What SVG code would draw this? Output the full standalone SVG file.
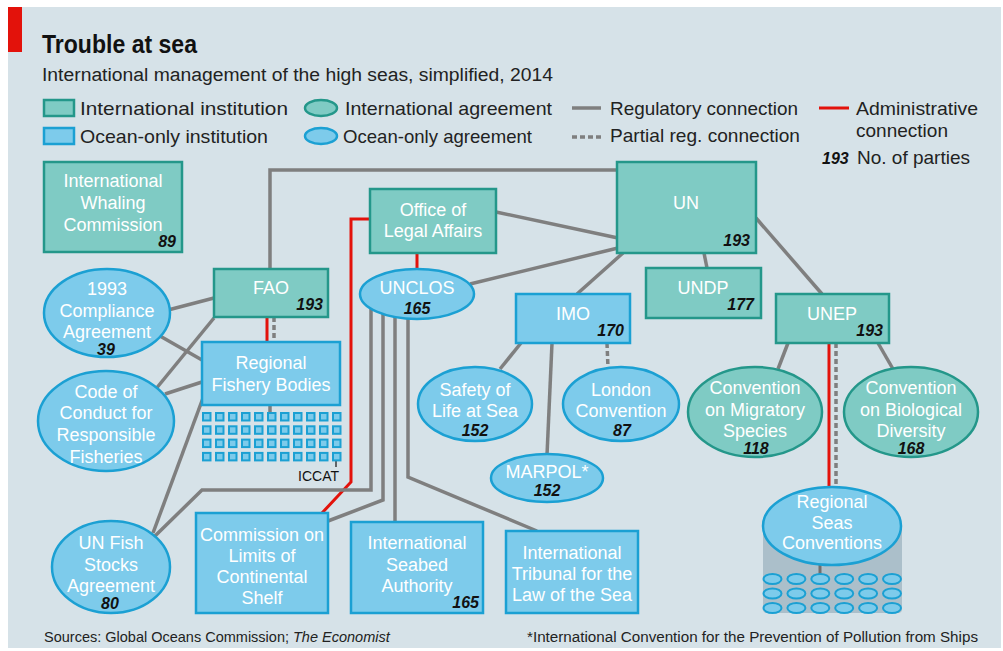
<svg xmlns="http://www.w3.org/2000/svg" width="1003" height="651" viewBox="0 0 1003 651">
<style>
text{font-family:"Liberation Sans",Arial,sans-serif}
.bg{fill:#d6e2e8}
.ti{fill:#7fcbc4;stroke:#24978a;stroke-width:2.5}
.oc{fill:#7dcbeb;stroke:#1ba0d3;stroke-width:2.5}
.nt{fill:#ffffff;font-size:18px;text-anchor:middle}
.num{fill:#111;font-size:16px;font-weight:bold;font-style:italic}
.e{text-anchor:end}
.m{text-anchor:middle}
.lg{fill:#222;font-size:19px}
.reg{fill:none;stroke:#7f7f7f;stroke-width:3.5}
.par{fill:none;stroke:#7f7f7f;stroke-width:3.5;stroke-dasharray:5 3}
.adm{fill:none;stroke:#e3120b;stroke-width:3}
.sq{fill:#7dcbeb;stroke:#1ba0d3;stroke-width:2}
</style>
<rect x="0" y="0" width="1003" height="651" fill="#ffffff"/>
<rect class="bg" x="8" y="7" width="993" height="641"/>
<rect x="8" y="7" width="14" height="45" fill="#e3120b"/>
<text x="42" y="53" font-size="25" font-weight="bold" fill="#111" textLength="155" lengthAdjust="spacingAndGlyphs">Trouble at sea</text>
<text x="42" y="81" font-size="18" fill="#222" textLength="511" lengthAdjust="spacingAndGlyphs">International management of the high seas, simplified, 2014</text>

<g id="legend">
<rect class="ti" x="44" y="100" width="30" height="16"/>
<text class="lg" x="80" y="115" textLength="208" lengthAdjust="spacingAndGlyphs">International institution</text>
<rect class="oc" x="44" y="128" width="30" height="16"/>
<text class="lg" x="80" y="143" textLength="188" lengthAdjust="spacingAndGlyphs">Ocean-only institution</text>
<ellipse class="ti" cx="321" cy="108" rx="16" ry="8"/>
<text class="lg" x="345" y="115" textLength="207" lengthAdjust="spacingAndGlyphs">International agreement</text>
<ellipse class="oc" cx="321" cy="136" rx="16" ry="8"/>
<text class="lg" x="343" y="143" textLength="189" lengthAdjust="spacingAndGlyphs">Ocean-only agreement</text>
<line class="reg" x1="572" y1="108" x2="601" y2="108"/>
<text class="lg" x="610" y="115" textLength="188" lengthAdjust="spacingAndGlyphs">Regulatory connection</text>
<line class="par" x1="572" y1="137" x2="601" y2="137" stroke-width="3"/>
<text class="lg" x="610" y="142" textLength="190" lengthAdjust="spacingAndGlyphs">Partial reg. connection</text>
<line class="adm" x1="819" y1="108" x2="849" y2="108"/>
<text class="lg" x="856" y="115" textLength="122" lengthAdjust="spacingAndGlyphs">Administrative</text>
<text class="lg" x="856" y="137" textLength="92" lengthAdjust="spacingAndGlyphs">connection</text>
<text class="num" x="822" y="164">193</text>
<text class="lg" x="857" y="164" textLength="113" lengthAdjust="spacingAndGlyphs">No. of parties</text>
</g>

<g id="connectors">
<polyline class="reg" points="617,170 270,170 270,269"/>
<line class="reg" x1="496" y1="212" x2="618" y2="238"/>
<line class="reg" x1="470" y1="284" x2="618" y2="248"/>
<line class="reg" x1="623" y1="253" x2="577" y2="294"/>
<line class="reg" x1="704" y1="253" x2="707" y2="268"/>
<line class="reg" x1="756" y1="218" x2="822" y2="294"/>
<line class="reg" x1="521" y1="343" x2="500" y2="369"/>
<line class="reg" x1="552" y1="343" x2="547" y2="455"/>
<line class="par" x1="607" y1="343" x2="608" y2="368"/>
<line class="reg" x1="788" y1="343" x2="778" y2="369"/>
<line class="reg" x1="878" y1="343" x2="893" y2="369"/>
<line class="adm" x1="417" y1="253" x2="417" y2="270"/>
<polyline class="adm" points="370,219 351,219 351,482 322,513"/>
<polyline class="reg" points="371,300 371,490 202,490 155,536"/>
<polyline class="reg" points="383,305 383,500 328,521"/>
<line class="reg" x1="395" y1="308" x2="395" y2="522"/>
<polyline class="reg" points="408,310 408,477 537,531"/>
<line class="reg" x1="168" y1="310" x2="214" y2="298"/>
<line class="reg" x1="160" y1="336" x2="202" y2="360"/>
<line class="reg" x1="155" y1="390" x2="214" y2="318"/>
<line class="reg" x1="165" y1="394" x2="202" y2="382"/>
<line class="reg" x1="203" y1="398" x2="153" y2="533"/>
<line class="adm" x1="267" y1="317" x2="267" y2="342"/>
<line class="par" x1="274" y1="317" x2="274" y2="342"/>
<line class="reg" x1="270" y1="405" x2="270" y2="412" stroke-width="2.5"/>
<line x1="336" y1="460" x2="336" y2="467" stroke="#111" stroke-width="1.2"/>
<line class="adm" x1="829" y1="343" x2="829" y2="488"/>
<line class="par" x1="836" y1="343" x2="836" y2="488"/>
</g>

<g id="iwc">
<rect class="ti" x="44" y="162" width="138" height="90"/>
<text class="nt" x="113" y="187">International</text>
<text class="nt" x="113" y="209">Whaling</text>
<text class="nt" x="113" y="231">Commission</text>
<text class="num e" x="176" y="247">89</text>
</g>
<g id="fao">
<rect class="ti" x="214" y="269" width="114" height="48"/>
<text class="nt" x="271" y="294">FAO</text>
<text class="num e" x="323" y="310">193</text>
</g>
<g id="compliance">
<ellipse class="oc" cx="107" cy="313" rx="63" ry="44"/>
<text class="nt" x="107" y="295">1993</text>
<text class="nt" x="107" y="317">Compliance</text>
<text class="nt" x="107" y="338">Agreement</text>
<text class="num m" x="106" y="355">39</text>
</g>
<g id="rfb">
<rect class="oc" x="202" y="342" width="138" height="63"/>
<text class="nt" x="271" y="369">Regional</text>
<text class="nt" x="271" y="391">Fishery Bodies</text>
<g id="rfb-grid">
<rect class="sq" x="203" y="413" width="7.5" height="7.5"/><rect class="sq" x="216" y="413" width="7.5" height="7.5"/><rect class="sq" x="229" y="413" width="7.5" height="7.5"/><rect class="sq" x="242" y="413" width="7.5" height="7.5"/><rect class="sq" x="255" y="413" width="7.5" height="7.5"/><rect class="sq" x="268" y="413" width="7.5" height="7.5"/><rect class="sq" x="281" y="413" width="7.5" height="7.5"/><rect class="sq" x="294" y="413" width="7.5" height="7.5"/><rect class="sq" x="307" y="413" width="7.5" height="7.5"/><rect class="sq" x="320" y="413" width="7.5" height="7.5"/><rect class="sq" x="333" y="413" width="7.5" height="7.5"/>
<rect class="sq" x="203" y="426.3" width="7.5" height="7.5"/><rect class="sq" x="216" y="426.3" width="7.5" height="7.5"/><rect class="sq" x="229" y="426.3" width="7.5" height="7.5"/><rect class="sq" x="242" y="426.3" width="7.5" height="7.5"/><rect class="sq" x="255" y="426.3" width="7.5" height="7.5"/><rect class="sq" x="268" y="426.3" width="7.5" height="7.5"/><rect class="sq" x="281" y="426.3" width="7.5" height="7.5"/><rect class="sq" x="294" y="426.3" width="7.5" height="7.5"/><rect class="sq" x="307" y="426.3" width="7.5" height="7.5"/><rect class="sq" x="320" y="426.3" width="7.5" height="7.5"/><rect class="sq" x="333" y="426.3" width="7.5" height="7.5"/>
<rect class="sq" x="203" y="439.6" width="7.5" height="7.5"/><rect class="sq" x="216" y="439.6" width="7.5" height="7.5"/><rect class="sq" x="229" y="439.6" width="7.5" height="7.5"/><rect class="sq" x="242" y="439.6" width="7.5" height="7.5"/><rect class="sq" x="255" y="439.6" width="7.5" height="7.5"/><rect class="sq" x="268" y="439.6" width="7.5" height="7.5"/><rect class="sq" x="281" y="439.6" width="7.5" height="7.5"/><rect class="sq" x="294" y="439.6" width="7.5" height="7.5"/><rect class="sq" x="307" y="439.6" width="7.5" height="7.5"/><rect class="sq" x="320" y="439.6" width="7.5" height="7.5"/><rect class="sq" x="333" y="439.6" width="7.5" height="7.5"/>
<rect class="sq" x="203" y="452.9" width="7.5" height="7.5"/><rect class="sq" x="216" y="452.9" width="7.5" height="7.5"/><rect class="sq" x="229" y="452.9" width="7.5" height="7.5"/><rect class="sq" x="242" y="452.9" width="7.5" height="7.5"/><rect class="sq" x="255" y="452.9" width="7.5" height="7.5"/><rect class="sq" x="268" y="452.9" width="7.5" height="7.5"/><rect class="sq" x="281" y="452.9" width="7.5" height="7.5"/><rect class="sq" x="294" y="452.9" width="7.5" height="7.5"/><rect class="sq" x="307" y="452.9" width="7.5" height="7.5"/><rect class="sq" x="320" y="452.9" width="7.5" height="7.5"/><rect class="sq" x="333" y="452.9" width="7.5" height="7.5"/>
</g>
<text x="339" y="481" font-size="14" fill="#111" text-anchor="end">ICCAT</text>
</g>
<g id="code">
<ellipse class="oc" cx="106" cy="421" rx="68" ry="50"/>
<text class="nt" x="106" y="398">Code of</text>
<text class="nt" x="106" y="419">Conduct for</text>
<text class="nt" x="106" y="441">Responsible</text>
<text class="nt" x="106" y="463">Fisheries</text>
</g>
<g id="unfsa">
<ellipse class="oc" cx="111" cy="567" rx="59" ry="46"/>
<text class="nt" x="111" y="549">UN Fish</text>
<text class="nt" x="111" y="571">Stocks</text>
<text class="nt" x="111" y="592">Agreement</text>
<text class="num m" x="110" y="609">80</text>
</g>
<g id="clcs">
<rect class="oc" x="196" y="513" width="132" height="100"/>
<text class="nt" x="262" y="541">Commission on</text>
<text class="nt" x="262" y="562">Limits of</text>
<text class="nt" x="262" y="583">Continental</text>
<text class="nt" x="262" y="604">Shelf</text>
</g>
<g id="isa">
<rect class="oc" x="351" y="522" width="132" height="91"/>
<text class="nt" x="417" y="549">International</text>
<text class="nt" x="417" y="571">Seabed</text>
<text class="nt" x="417" y="592">Authority</text>
<text class="num e" x="479" y="608">165</text>
</g>
<g id="itlos">
<rect class="oc" x="506" y="531" width="132" height="82"/>
<text class="nt" x="572" y="559">International</text>
<text class="nt" x="572" y="580">Tribunal for the</text>
<text class="nt" x="572" y="601">Law of the Sea</text>
</g>
<g id="ola">
<rect class="ti" x="370" y="189" width="126" height="64"/>
<text class="nt" x="433" y="216">Office of</text>
<text class="nt" x="433" y="237">Legal Affairs</text>
</g>
<g id="unclos">
<ellipse class="oc" cx="417" cy="294" rx="57" ry="25"/>
<text class="nt" x="417" y="294">UNCLOS</text>
<text class="num m" x="417" y="314">165</text>
</g>
<g id="imo">
<rect class="oc" x="516" y="294" width="114" height="49"/>
<text class="nt" x="573" y="320">IMO</text>
<text class="num e" x="624" y="336">170</text>
</g>
<g id="solas">
<ellipse class="oc" cx="475" cy="404" rx="57" ry="37"/>
<text class="nt" x="475" y="396">Safety of</text>
<text class="nt" x="475" y="417">Life at Sea</text>
<text class="num m" x="475" y="436">152</text>
</g>
<g id="london">
<ellipse class="oc" cx="621" cy="404" rx="58" ry="37"/>
<text class="nt" x="621" y="396">London</text>
<text class="nt" x="621" y="417">Convention</text>
<text class="num m" x="622" y="436">87</text>
</g>
<g id="marpol">
<ellipse class="oc" cx="547" cy="478" rx="56" ry="24"/>
<text class="nt" x="547" y="478">MARPOL*</text>
<text class="num m" x="547" y="496">152</text>
</g>
<g id="un">
<rect class="ti" x="617" y="162" width="139" height="91"/>
<text class="nt" x="686" y="209">UN</text>
<text class="num e" x="750" y="246">193</text>
</g>
<g id="undp">
<rect class="ti" x="646" y="268" width="115" height="50"/>
<text class="nt" x="703" y="294">UNDP</text>
<text class="num e" x="754" y="310">177</text>
</g>
<g id="unep">
<rect class="ti" x="776" y="294" width="113" height="49"/>
<text class="nt" x="832" y="320">UNEP</text>
<text class="num e" x="883" y="336">193</text>
</g>
<g id="cms">
<ellipse class="ti" cx="755" cy="412" rx="67" ry="45"/>
<text class="nt" x="755" y="394">Convention</text>
<text class="nt" x="755" y="416">on Migratory</text>
<text class="nt" x="755" y="437">Species</text>
<text class="num m" x="756" y="454">118</text>
</g>
<g id="cbd">
<ellipse class="ti" cx="911" cy="412" rx="67" ry="45"/>
<text class="nt" x="911" y="394">Convention</text>
<text class="nt" x="911" y="416">on Biological</text>
<text class="nt" x="911" y="437">Diversity</text>
<text class="num m" x="911" y="454">168</text>
</g>
<g id="rsc">
<path d="M763,526 H902 V609 Q902,613 898,613 H767 Q763,613 763,609 Z" fill="#abbfca"/>
<line x1="820" y1="560" x2="820" y2="574" stroke="#6f6f6f" stroke-width="3"/>
<ellipse class="oc" cx="832" cy="526" rx="69" ry="39"/>
<text class="nt" x="832" y="508">Regional</text>
<text class="nt" x="832" y="529">Seas</text>
<text class="nt" x="832" y="549">Conventions</text>
<g id="rsc-grid">
<ellipse class="sq" cx="772.5" cy="579" rx="9" ry="5"/><ellipse class="sq" cx="796.4" cy="579" rx="9" ry="5"/><ellipse class="sq" cx="820.3" cy="579" rx="9" ry="5"/><ellipse class="sq" cx="844.2" cy="579" rx="9" ry="5"/><ellipse class="sq" cx="868.1" cy="579" rx="9" ry="5"/><ellipse class="sq" cx="892" cy="579" rx="9" ry="5"/>
<ellipse class="sq" cx="772.5" cy="593.5" rx="9" ry="5"/><ellipse class="sq" cx="796.4" cy="593.5" rx="9" ry="5"/><ellipse class="sq" cx="820.3" cy="593.5" rx="9" ry="5"/><ellipse class="sq" cx="844.2" cy="593.5" rx="9" ry="5"/><ellipse class="sq" cx="868.1" cy="593.5" rx="9" ry="5"/><ellipse class="sq" cx="892" cy="593.5" rx="9" ry="5"/>
<ellipse class="sq" cx="772.5" cy="608" rx="9" ry="5"/><ellipse class="sq" cx="796.4" cy="608" rx="9" ry="5"/><ellipse class="sq" cx="820.3" cy="608" rx="9" ry="5"/><ellipse class="sq" cx="844.2" cy="608" rx="9" ry="5"/><ellipse class="sq" cx="868.1" cy="608" rx="9" ry="5"/><ellipse class="sq" cx="892" cy="608" rx="9" ry="5"/>
</g>
</g>

<text x="44" y="642" font-size="14.5" fill="#222">Sources: Global Oceans Commission; <tspan font-style="italic">The Economist</tspan></text>
<text x="978" y="642" font-size="15.5" fill="#222" text-anchor="end" textLength="451" lengthAdjust="spacingAndGlyphs">*International Convention for the Prevention of Pollution from Ships</text>
</svg>
